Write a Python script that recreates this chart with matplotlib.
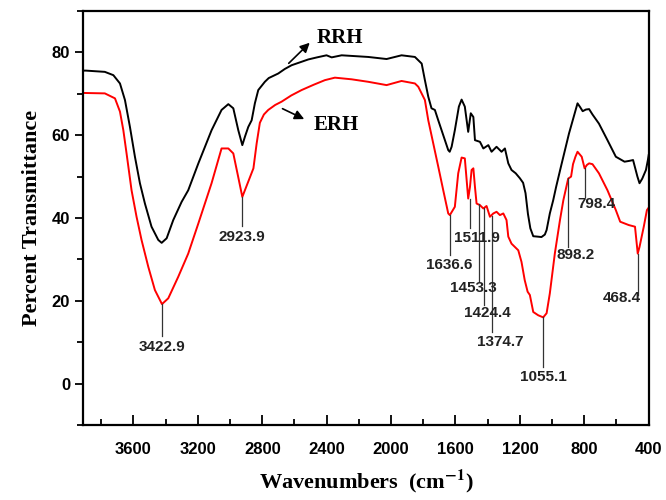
import matplotlib.pyplot as plt
from matplotlib.ticker import MultipleLocator

plt.rcParams['mathtext.fontset'] = 'stix'

# RRH (black) spectrum
rrh_wn = [3905, 3895, 3778, 3725, 3684, 3653, 3622, 3591, 3560, 3529, 3488, 3446, 3425, 3394,
          3353, 3301, 3260, 3197, 3115, 3053, 3011, 2980, 2949, 2924, 2908, 2887, 2866, 2846,
          2825, 2784, 2760, 2701, 2660, 2618, 2514, 2460, 2401, 2369, 2307, 2142, 2028, 1935,
          1852, 1810, 1790, 1769, 1749, 1728, 1707, 1676, 1645, 1636, 1624, 1604, 1579, 1562,
          1542, 1521, 1505, 1489, 1479, 1448, 1427, 1396, 1376, 1345, 1314, 1293, 1272, 1252,
          1226, 1200, 1180, 1165, 1150, 1135, 1117, 1090, 1066, 1045, 1034, 1014, 993, 975, 945,
          895, 842, 826, 810, 790, 770, 749, 709, 656, 604, 550, 520, 497, 470, 457, 440, 417,
          405, 400]
rrh_t = [75.6, 75.6, 75.3, 74.5, 72.5, 68.5, 62.0, 54.8, 48.4, 43.5, 37.9, 34.7, 34.0, 35.1,
         39.5, 43.9, 46.7, 53.2, 61.2, 66.1, 67.5, 66.5, 61.2, 57.6, 59.6, 62.0, 63.6, 67.7,
         70.9, 72.9, 73.8, 74.9, 76.0, 76.9, 78.3, 78.8, 79.3, 78.8, 79.3, 78.9, 78.4, 79.3,
         78.9, 77.3, 73.3, 69.3, 66.5, 66.1, 63.6, 60.0, 56.4, 56.0, 57.2, 61.2, 66.9, 68.6,
         66.9, 60.8, 65.3, 64.4, 58.8, 58.4, 56.8, 57.6, 56.0, 57.2, 56.0, 56.8, 53.2, 51.6,
         50.8, 49.6, 48.5, 46.0, 41.0, 37.5, 35.6, 35.5, 35.4, 36.0, 37.1, 41.1, 44.3, 47.5, 52.4,
         60.4, 67.7, 66.8, 65.8, 66.2, 66.3, 65.0, 62.8, 58.8, 54.8, 53.6, 53.8, 54.0, 50.0,
         48.4, 49.5, 51.6, 54.0, 55.2]

# ERH (red) spectrum
erh_wn = [3905, 3778, 3715, 3684, 3663, 3643, 3612, 3581, 3550, 3508, 3467, 3423, 3384, 3322,
          3260, 3197, 3115, 3053, 3011, 2980, 2950, 2924, 2883, 2855, 2835, 2815, 2790, 2763,
          2720, 2680, 2620, 2556, 2480, 2411, 2349, 2245, 2142, 2028, 1935, 1852, 1831, 1790,
          1769, 1738, 1707, 1676, 1645, 1635, 1604, 1583, 1562, 1542, 1521, 1510, 1500, 1489,
          1479, 1469, 1448, 1427, 1407, 1386, 1365, 1345, 1324, 1303, 1283, 1272, 1252, 1210,
          1190, 1170, 1152, 1138, 1117, 1086, 1055, 1034, 1014, 983, 951, 930, 900, 882, 870,
          855, 842, 816, 798, 784, 770, 749, 709, 656, 604, 577, 524, 485, 468, 457, 430, 411, 400]
erh_t = [70.2, 70.1, 68.9, 65.7, 61.2, 55.6, 46.7, 40.3, 34.7, 28.2, 22.6, 19.2, 20.6, 25.8,
         31.4, 38.7, 48.4, 56.8, 56.8, 55.6, 50.0, 45.1, 49.2, 52.0, 58.0, 63.0, 65.0, 66.1,
         67.3, 68.1, 69.6, 70.9, 72.2, 73.3, 73.9, 73.5, 72.9, 72.1, 73.1, 72.5, 71.7, 68.5,
         63.6, 58.0, 52.4, 46.7, 41.1, 40.7, 42.7, 50.8, 54.6, 54.4, 44.7, 47.5, 51.6, 52.0,
         47.5, 43.5, 43.1, 42.3, 42.9, 40.3, 41.1, 41.5, 40.7, 41.1, 39.5, 35.5, 33.8, 32.2,
         29.4, 25.0, 22.2, 21.4, 17.3, 16.5, 16.0, 17.0, 21.8, 31.4, 39.5, 44.3, 49.5, 50.0, 53.0,
         54.8, 56.0, 54.8, 52.0, 52.8, 53.2, 53.0, 50.8, 46.7, 41.9, 39.1, 38.3, 37.9, 31.4,
         33.0, 38.0, 41.9, 42.5]

# peak labels: line position, line top / bottom, text position
peak_labels = ['3422.9', '2923.9', '1636.6', '1511.9', '1453.3', '1424.4', '1374.7',
               '1055.1', '898.2', '798.4', '468.4']
peak_wn = [3422.9, 2923.9, 1636.6, 1511.9, 1453.3, 1424.4, 1374.7, 1055.1, 898.2, 798.4, 468.4]
peak_top = [19.2, 45.1, 40.7, 44.7, 43.3, 42.5, 40.5, 16.0, 49.6, 52.0, 31.4]
peak_bot = [11.5, 38.0, 31.0, 37.5, 24.6, 19.0, 12.5, 4.0, 33.0, 45.1, 21.4]
text_wn = [3422.9, 2923.9, 1640, 1465, 1488, 1400, 1321, 1055.1, 853, 724, 568]
text_t = [8.9, 35.3, 28.6, 35.1, 23.0, 17.0, 10.1, 1.6, 31.0, 43.4, 20.6]

fig = plt.figure(figsize=(6.66, 5.0), dpi=100)
ax = fig.add_axes([0.125, 0.15, 0.849, 0.828])

ax.plot(rrh_wn, rrh_t, color='black', lw=1.4)
ax.plot(erh_wn, erh_t, color='red', lw=1.4)

for lab, x, t0, t1, tx, ty in zip(peak_labels, peak_wn, peak_top, peak_bot, text_wn, text_t):
    ax.plot([x, x], [t0, t1], color='#333333', lw=0.9)
    ax.text(tx, ty, lab, ha='center', va='center', fontsize=11, fontweight='bold',
            family=['Liberation Sans Narrow', 'Liberation Sans'], color='#222222')

# curve names with arrows
ax.annotate('', xy=(2493, 82.8), xytext=(2648, 76.9),
            arrowprops=dict(arrowstyle='-|>', color='black', lw=1.2, mutation_scale=14))
ax.text(2317, 83.5, 'RRH', ha='center', va='center', fontsize=15, fontweight='bold',
        family='Liberation Serif')
ax.annotate('', xy=(2524, 63.6), xytext=(2690, 66.7),
            arrowprops=dict(arrowstyle='-|>', color='black', lw=1.2, mutation_scale=14))
ax.text(2342, 62.4, 'ERH', ha='center', va='center', fontsize=15, fontweight='bold',
        family='Liberation Serif')

ax.set_xlim(3912, 400)
ax.set_ylim(-10, 90)
ax.xaxis.set_major_locator(MultipleLocator(400))
ax.xaxis.set_minor_locator(MultipleLocator(200))
ax.yaxis.set_major_locator(MultipleLocator(20))
ax.yaxis.set_minor_locator(MultipleLocator(10))
ax.tick_params(axis='x', which='major', direction='in', length=7, width=1.3, pad=12)
ax.tick_params(axis='x', which='minor', direction='in', length=4, width=1.3)
ax.tick_params(axis='y', which='major', direction='out', length=6, width=1.3)
ax.tick_params(axis='y', which='minor', direction='out', length=4, width=1.3)
ax.tick_params(top=False, right=False)
for lbl in ax.get_xticklabels() + ax.get_yticklabels():
    lbl.set_fontsize(12)
    lbl.set_fontweight('bold')
    lbl.set_family(['Liberation Sans Narrow', 'Liberation Sans'])
for sp in ax.spines.values():
    sp.set_linewidth(1.6)

ax.set_xlabel(r'Wavenumbers  (cm$^{\mathbf{-1}}$)', fontsize=16, fontweight='bold',
              family='Liberation Serif', labelpad=8)
ax.set_ylabel('Percent Transmittance', fontsize=16, fontweight='bold',
              family='Liberation Serif', labelpad=7)

fig.savefig('out.png', dpi=100)
